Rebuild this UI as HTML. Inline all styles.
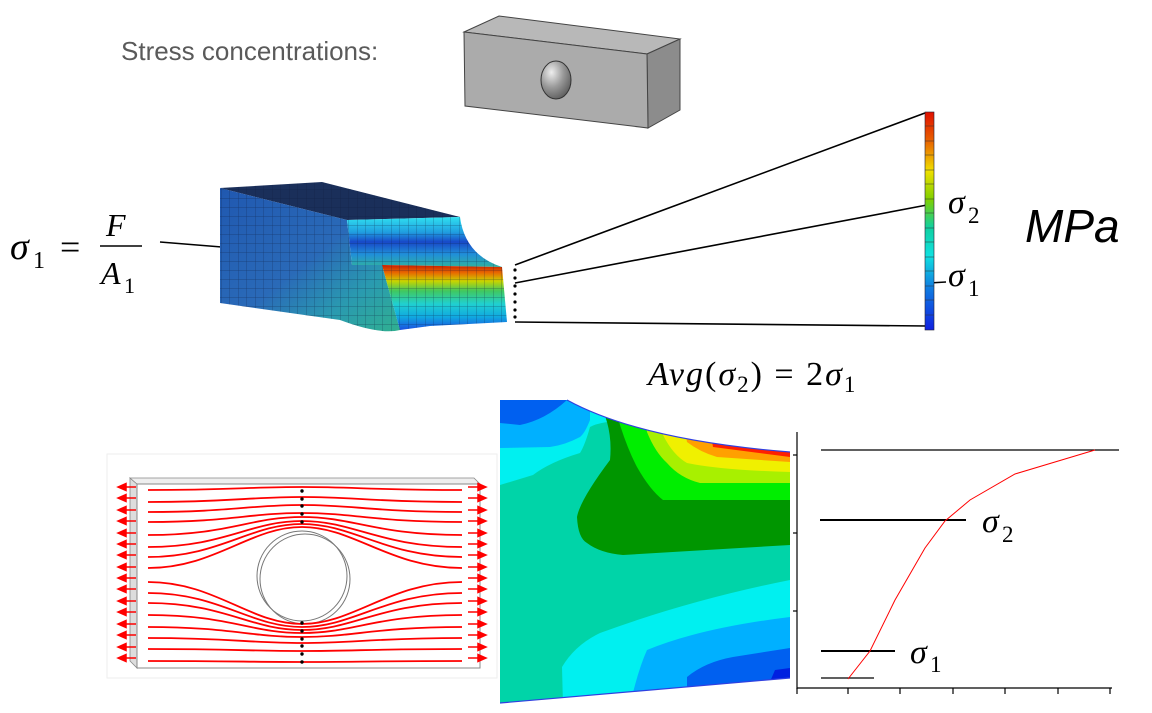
<!DOCTYPE html>
<html><head><meta charset="utf-8"><style>
html,body{margin:0;padding:0;background:#fff;width:1152px;height:713px;overflow:hidden}
svg{display:block}
</style></head><body>
<svg width="1152" height="713" viewBox="0 0 1152 713" xmlns="http://www.w3.org/2000/svg">
<defs>
<radialGradient id="hole" cx="0.35" cy="0.3" r="0.8"><stop offset="0" stop-color="#eee"/><stop offset="0.5" stop-color="#999"/><stop offset="1" stop-color="#555"/></radialGradient>
<linearGradient id="frontR" x1="0" y1="0" x2="0" y2="1">
<stop offset="0" stop-color="#c81e00"/><stop offset="0.12" stop-color="#e86a00"/><stop offset="0.25" stop-color="#c8d400"/><stop offset="0.4" stop-color="#40c860"/><stop offset="0.6" stop-color="#20d0d0"/><stop offset="0.8" stop-color="#10a8e0"/><stop offset="1" stop-color="#1a50e0"/></linearGradient>
<linearGradient id="fillet" x1="0" y1="0" x2="0" y2="1">
<stop offset="0" stop-color="#30e0f0"/><stop offset="0.3" stop-color="#20a0e0"/><stop offset="0.5" stop-color="#1848c8"/><stop offset="0.75" stop-color="#2090d8"/><stop offset="1" stop-color="#30b0a0"/></linearGradient>
<linearGradient id="frontL" x1="0" y1="0" x2="1" y2="1">
<stop offset="0" stop-color="#2058b0"/><stop offset="0.5" stop-color="#2a6ab8"/><stop offset="0.75" stop-color="#2a9ab0"/><stop offset="1" stop-color="#30b090"/></linearGradient>
<pattern id="grid" width="8.5" height="9" patternUnits="userSpaceOnUse"><path d="M0 0H8.5M0 0V9" stroke="#0a1a3a" stroke-width="0.7" fill="none" opacity="0.55"/></pattern>
<linearGradient id="bar" x1="0" y1="0" x2="0" y2="1">
<stop offset="0" stop-color="#e01000"/><stop offset="0.13" stop-color="#e86000"/><stop offset="0.27" stop-color="#f0e000"/><stop offset="0.4" stop-color="#80d000"/><stop offset="0.53" stop-color="#10d0a0"/><stop offset="0.66" stop-color="#10e0e0"/><stop offset="0.8" stop-color="#1080e0"/><stop offset="1" stop-color="#1020e0"/></linearGradient>
<clipPath id="cp"><path d="M500,400 L567,400 Q640,440 790,452 L790,678 L500,703 Z"/></clipPath>
</defs>

<text x="121" y="60" font-family="Liberation Sans, sans-serif" font-size="26" fill="#5a5a5a">Stress concentrations:</text>

<polygon points="464,32 499,16 680,39 647,54" fill="#b8b8b8" stroke="#444" stroke-width="1"/>
<polygon points="647,54 680,39 680,110 648,128" fill="#8c8c8c" stroke="#444" stroke-width="1"/>
<polygon points="464,32 647,54 648,128 465,106" fill="#ababab" stroke="#444" stroke-width="1"/>
<ellipse cx="556" cy="80" rx="15" ry="19" fill="url(#hole)" stroke="#333"/>

<text x="10" y="259" font-family="Liberation Serif, serif" font-style="italic" font-size="38">σ</text>
<text x="33" y="268" font-family="Liberation Serif, serif" font-size="24">1</text>
<text x="60" y="259" font-family="Liberation Serif, serif" font-size="36">=</text>
<text x="106" y="236" font-family="Liberation Serif, serif" font-style="italic" font-size="32">F</text>
<line x1="100" y1="246" x2="142" y2="246" stroke="#000" stroke-width="1.5"/>
<text x="101" y="284" font-family="Liberation Serif, serif" font-style="italic" font-size="32">A</text>
<text x="124" y="293" font-family="Liberation Serif, serif" font-size="22">1</text>
<line x1="160" y1="242" x2="234" y2="248" stroke="#000" stroke-width="1.5"/>

<g>
<polygon points="220,188 322,182 460,217 347,220" fill="#1a2f5a"/>
<path d="M220,188 L347,220 L352,265 L382,265 L400,330 Q380,335 340,320 L220,303 Z" fill="url(#frontL)"/>
<path d="M347,220 L460,217 Q465,255 502,267 L382,265 L352,265 Z" fill="url(#fillet)"/>
<path d="M382,265 L502,267 L507,322 L430,326 L400,330 Z" fill="url(#frontR)"/>
<path d="M220,188 L322,182 L460,217 Q465,255 502,267 L507,322 L430,326 L400,330 Q380,335 340,320 L220,303 Z" fill="url(#grid)"/>
</g>

<g fill="#000">
<circle cx="515" cy="270" r="1.6"/><circle cx="515" cy="278" r="1.6"/><circle cx="515" cy="286" r="1.6"/><circle cx="515" cy="294" r="1.6"/><circle cx="515" cy="302" r="1.6"/><circle cx="515" cy="310" r="1.6"/><circle cx="515" cy="317" r="1.6"/>
</g>
<g stroke="#000" stroke-width="1.6">
<line x1="515" y1="265" x2="925" y2="113"/>
<line x1="515" y1="283" x2="927" y2="205"/>
<line x1="515" y1="322" x2="927" y2="326"/>
<line x1="929" y1="283" x2="946" y2="282"/>
</g>
<rect x="925" y="112" width="9" height="218" fill="url(#bar)" stroke="#223" stroke-width="0.6"/>
<g stroke="#333" stroke-width="0.5">
<line x1="925" y1="126" x2="934" y2="126"/><line x1="925" y1="141" x2="934" y2="141"/><line x1="925" y1="155" x2="934" y2="155"/><line x1="925" y1="170" x2="934" y2="170"/><line x1="925" y1="184" x2="934" y2="184"/><line x1="925" y1="199" x2="934" y2="199"/><line x1="925" y1="213" x2="934" y2="213"/><line x1="925" y1="228" x2="934" y2="228"/><line x1="925" y1="242" x2="934" y2="242"/><line x1="925" y1="257" x2="934" y2="257"/><line x1="925" y1="271" x2="934" y2="271"/><line x1="925" y1="286" x2="934" y2="286"/><line x1="925" y1="300" x2="934" y2="300"/><line x1="925" y1="315" x2="934" y2="315"/>
</g>
<text x="948" y="213" font-family="Liberation Serif, serif" font-style="italic" font-size="34">σ</text>
<text x="968" y="223" font-family="Liberation Serif, serif" font-size="23">2</text>
<text x="948" y="286" font-family="Liberation Serif, serif" font-style="italic" font-size="34">σ</text>
<text x="968" y="296" font-family="Liberation Serif, serif" font-size="23">1</text>
<text x="1025" y="242" font-family="Liberation Sans, sans-serif" font-style="italic" font-size="46">MPa</text>
<text x="648" y="385" font-family="Liberation Serif, serif" font-size="34" letter-spacing="2"><tspan font-style="italic">Avg</tspan>(<tspan font-style="italic">σ</tspan><tspan font-size="23" dy="7">2</tspan><tspan dy="-7">) = 2</tspan><tspan font-style="italic">σ</tspan><tspan font-size="23" dy="7">1</tspan></text>

<rect x="107" y="454" width="390" height="224" fill="none" stroke="#eee" stroke-width="1"/>
<polygon points="130,478 137,484 137,668 130,661" fill="#ddd" stroke="#888" stroke-width="0.8"/>
<polygon points="130,478 474,478 480,484 137,484" fill="#eee" stroke="#888" stroke-width="0.8"/>
<rect x="137" y="484" width="343" height="184" fill="#fff" stroke="#888" stroke-width="1"/>
<circle cx="302" cy="576" r="45" fill="#fff" stroke="#777" stroke-width="1"/>
<circle cx="305" cy="579" r="45" fill="none" stroke="#777" stroke-width="1"/>
<g stroke="#f00" stroke-width="1.8" fill="none">
<path d="M148,490 C230,490 250,487 302,487 S375,490 462,490"/>
<path d="M148,502 C230,502 250,497 302,497 S375,502 462,502"/>
<path d="M148,512 C230,512 250,505 302,505 S375,512 462,512"/>
<path d="M148,522 C230,522 250,513 302,513 S375,522 462,522"/>
<path d="M148,535 C230,535 250,517 302,517 S375,535 462,535"/>
<path d="M148,547 C225,547 250,521 302,521 S380,547 462,547"/>
<path d="M148,557 C220,557 250,524 302,524 S385,557 462,557"/>
<path d="M148,568 C215,568 250,527 302,527 S390,568 462,568"/>
<path d="M148,582 C215,582 250,624 302,624 S390,582 462,582"/>
<path d="M148,593 C220,593 250,627 302,627 S385,593 462,593"/>
<path d="M148,603 C225,603 250,630 302,630 S380,603 462,603"/>
<path d="M148,615 C230,615 250,633 302,633 S375,615 462,615"/>
<path d="M148,627 C230,627 250,637 302,637 S375,627 462,627"/>
<path d="M148,638 C230,638 250,643 302,643 S375,638 462,638"/>
<path d="M148,649 C230,649 250,651 302,651 S375,649 462,649"/>
<path d="M148,661 C230,661 250,662 302,662 S375,661 462,661"/>
</g>
<g stroke="#f00" stroke-width="1.5" fill="#f00">
<g transform="translate(0,487)"><line x1="124" y1="0" x2="136" y2="0"/><polygon points="118,0 126,-3.5 126,3.5"/><line x1="468" y1="0" x2="480" y2="0"/><polygon points="486,0 478,-3.5 478,3.5"/></g>
<g transform="translate(0,498)"><line x1="124" y1="0" x2="136" y2="0"/><polygon points="118,0 126,-3.5 126,3.5"/><line x1="468" y1="0" x2="480" y2="0"/><polygon points="486,0 478,-3.5 478,3.5"/></g>
<g transform="translate(0,510)"><line x1="124" y1="0" x2="136" y2="0"/><polygon points="118,0 126,-3.5 126,3.5"/><line x1="468" y1="0" x2="480" y2="0"/><polygon points="486,0 478,-3.5 478,3.5"/></g>
<g transform="translate(0,521)"><line x1="124" y1="0" x2="136" y2="0"/><polygon points="118,0 126,-3.5 126,3.5"/><line x1="468" y1="0" x2="480" y2="0"/><polygon points="486,0 478,-3.5 478,3.5"/></g>
<g transform="translate(0,533)"><line x1="124" y1="0" x2="136" y2="0"/><polygon points="118,0 126,-3.5 126,3.5"/><line x1="468" y1="0" x2="480" y2="0"/><polygon points="486,0 478,-3.5 478,3.5"/></g>
<g transform="translate(0,544)"><line x1="124" y1="0" x2="136" y2="0"/><polygon points="118,0 126,-3.5 126,3.5"/><line x1="468" y1="0" x2="480" y2="0"/><polygon points="486,0 478,-3.5 478,3.5"/></g>
<g transform="translate(0,555)"><line x1="124" y1="0" x2="136" y2="0"/><polygon points="118,0 126,-3.5 126,3.5"/><line x1="468" y1="0" x2="480" y2="0"/><polygon points="486,0 478,-3.5 478,3.5"/></g>
<g transform="translate(0,567)"><line x1="124" y1="0" x2="136" y2="0"/><polygon points="118,0 126,-3.5 126,3.5"/><line x1="468" y1="0" x2="480" y2="0"/><polygon points="486,0 478,-3.5 478,3.5"/></g>
<g transform="translate(0,578)"><line x1="124" y1="0" x2="136" y2="0"/><polygon points="118,0 126,-3.5 126,3.5"/><line x1="468" y1="0" x2="480" y2="0"/><polygon points="486,0 478,-3.5 478,3.5"/></g>
<g transform="translate(0,589)"><line x1="124" y1="0" x2="136" y2="0"/><polygon points="118,0 126,-3.5 126,3.5"/><line x1="468" y1="0" x2="480" y2="0"/><polygon points="486,0 478,-3.5 478,3.5"/></g>
<g transform="translate(0,601)"><line x1="124" y1="0" x2="136" y2="0"/><polygon points="118,0 126,-3.5 126,3.5"/><line x1="468" y1="0" x2="480" y2="0"/><polygon points="486,0 478,-3.5 478,3.5"/></g>
<g transform="translate(0,612)"><line x1="124" y1="0" x2="136" y2="0"/><polygon points="118,0 126,-3.5 126,3.5"/><line x1="468" y1="0" x2="480" y2="0"/><polygon points="486,0 478,-3.5 478,3.5"/></g>
<g transform="translate(0,624)"><line x1="124" y1="0" x2="136" y2="0"/><polygon points="118,0 126,-3.5 126,3.5"/><line x1="468" y1="0" x2="480" y2="0"/><polygon points="486,0 478,-3.5 478,3.5"/></g>
<g transform="translate(0,635)"><line x1="124" y1="0" x2="136" y2="0"/><polygon points="118,0 126,-3.5 126,3.5"/><line x1="468" y1="0" x2="480" y2="0"/><polygon points="486,0 478,-3.5 478,3.5"/></g>
<g transform="translate(0,647)"><line x1="124" y1="0" x2="136" y2="0"/><polygon points="118,0 126,-3.5 126,3.5"/><line x1="468" y1="0" x2="480" y2="0"/><polygon points="486,0 478,-3.5 478,3.5"/></g>
<g transform="translate(0,658)"><line x1="124" y1="0" x2="136" y2="0"/><polygon points="118,0 126,-3.5 126,3.5"/><line x1="468" y1="0" x2="480" y2="0"/><polygon points="486,0 478,-3.5 478,3.5"/></g>
</g>
<g fill="#000">
<circle cx="302" cy="491" r="1.7"/><circle cx="302" cy="499" r="1.7"/><circle cx="302" cy="506" r="1.7"/><circle cx="302" cy="514" r="1.7"/><circle cx="302" cy="522" r="1.7"/>
<circle cx="302" cy="623" r="1.7"/><circle cx="302" cy="631" r="1.7"/><circle cx="302" cy="639" r="1.7"/><circle cx="302" cy="646" r="1.7"/><circle cx="302" cy="654" r="1.7"/><circle cx="302" cy="662" r="1.7"/>
</g>

<g clip-path="url(#cp)">
<rect x="500" y="400" width="290" height="305" fill="#00d4a8"/>
<path d="M500,400 L600,400 L607,422 Q595,424 590,427 Q585,445 580,453 Q550,462 533,475 L500,485 Z" fill="#00f0f0"/>
<path d="M500,400 L590,400 L590,420 Q585,433 580,437 Q565,445 550,447 L500,448 Z" fill="#00b0ff"/>
<path d="M500,400 L567,400 Q545,420 520,425 L500,423 Z" fill="#0060f0"/>
<path d="M600,400 L607,422 Q612,440 610,460 Q580,500 577,517 Q578,538 587,543 Q600,553 623,555 L790,545 L790,400 Z" fill="#009600"/>
<path d="M612,400 L620,425 Q628,450 637,467 Q650,490 663,500 L790,500 L790,400 Z" fill="#00ee00"/>
<path d="M640,400 L647,432 Q655,452 667,463 Q680,478 700,483 L790,483 L790,400 Z" fill="#a8f000"/>
<path d="M655,400 L663,435 Q673,455 687,463 Q720,470 790,472 L790,400 Z" fill="#f0f000"/>
<path d="M680,400 L687,442 Q700,452 717,457 L790,462 L790,400 Z" fill="#ffa000"/>
<path d="M705,400 L713,447 L790,457 L790,400 Z" fill="#ff2000"/>
<path d="M563,705 L562,667 Q575,645 600,633 Q690,600 790,580 L790,705 Z" fill="#00f0f0"/>
<path d="M630,705 Q638,670 647,650 Q700,628 790,617 L790,705 Z" fill="#00b0ff"/>
<path d="M687,705 L687,677 Q705,662 733,657 L790,648 L790,705 Z" fill="#0060f0"/>
<path d="M760,705 L775,670 L790,668 L790,705 Z" fill="#0020e0"/>
</g>
<path d="M567,400 Q640,440 790,452" fill="none" stroke="#3040e0" stroke-width="1.2"/>
<line x1="500" y1="703" x2="790" y2="678" stroke="#3040e0" stroke-width="1.2"/>

<g stroke="#000" stroke-width="1.2" fill="none">
<line x1="797" y1="432" x2="797" y2="689"/>
<line x1="797" y1="688" x2="1112" y2="688"/>
<line x1="793" y1="455" x2="797" y2="455"/><line x1="793" y1="533" x2="797" y2="533"/><line x1="793" y1="611" x2="797" y2="611"/>
<line x1="797" y1="688" x2="797" y2="694"/><line x1="848" y1="688" x2="848" y2="694"/><line x1="900" y1="688" x2="900" y2="694"/><line x1="953" y1="688" x2="953" y2="694"/><line x1="1005" y1="688" x2="1005" y2="694"/><line x1="1058" y1="688" x2="1058" y2="694"/><line x1="1110" y1="688" x2="1110" y2="694"/>
<line x1="821" y1="450" x2="1119" y2="450"/>
<line x1="821" y1="678" x2="874" y2="678"/>
</g>
<line x1="820" y1="520" x2="966" y2="520" stroke="#000" stroke-width="2"/>
<line x1="821" y1="651" x2="895" y2="651" stroke="#000" stroke-width="2"/>
<polyline points="848,679 870,651 895,600 925,548 945,521 970,500 1015,474 1095,450" fill="none" stroke="#f00" stroke-width="1"/>
<text x="982" y="532" font-family="Liberation Serif, serif" font-style="italic" font-size="34">σ</text>
<text x="1002" y="542" font-family="Liberation Serif, serif" font-size="23">2</text>
<text x="910" y="663" font-family="Liberation Serif, serif" font-style="italic" font-size="34">σ</text>
<text x="930" y="672" font-family="Liberation Serif, serif" font-size="23">1</text>
</svg>
</body></html>
